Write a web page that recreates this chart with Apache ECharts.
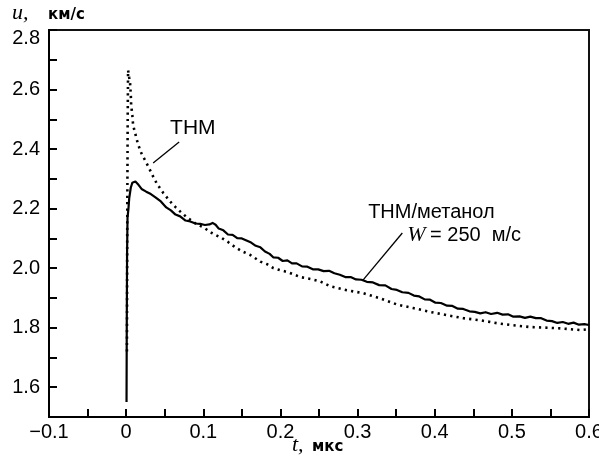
<!DOCTYPE html>
<html><head><meta charset="utf-8">
<script src="https://cdn.jsdelivr.net/npm/echarts@6/dist/echarts.min.js"></script>
<style>html,body{margin:0;padding:0;background:#fff}#c{width:599px;height:456px}</style>
</head><body><div id="c"></div>
<script>
// THM/метанол, W = 250 м/с (solid)
const tSolid=[0.0005,0.0008,0.0012,0.0018,0.003,0.004,0.006,0.008,0.012,0.016,0.020,0.026,0.032,0.038,0.045,0.052,0.058,0.064,0.070,0.077,0.083,0.090,0.096,0.102,0.108,0.112,0.116,0.120,0.126,0.132,0.138,0.144,0.150,0.156,0.162,0.168,0.174,0.180,0.186,0.191,0.197,0.203,0.209,0.215,0.221,0.228,0.235,0.242,0.249,0.256,0.263,0.270,0.277,0.284,0.291,0.298,0.305,0.312,0.320,0.328,0.336,0.344,0.351,0.358,0.366,0.373,0.380,0.387,0.394,0.401,0.408,0.416,0.423,0.430,0.437,0.445,0.452,0.459,0.466,0.473,0.481,0.488,0.495,0.502,0.510,0.517,0.524,0.531,0.538,0.545,0.552,0.559,0.566,0.573,0.580,0.587,0.594,0.600];
const uSolid=[1.55,1.80,2.05,2.17,2.20,2.235,2.27,2.287,2.291,2.28,2.266,2.257,2.249,2.238,2.224,2.204,2.194,2.180,2.174,2.160,2.157,2.150,2.149,2.145,2.147,2.152,2.146,2.133,2.127,2.113,2.112,2.101,2.100,2.093,2.086,2.075,2.070,2.056,2.048,2.036,2.035,2.024,2.026,2.016,2.016,2.006,2.005,1.996,1.996,1.990,1.991,1.983,1.978,1.970,1.970,1.962,1.961,1.954,1.952,1.943,1.942,1.930,1.927,1.919,1.917,1.908,1.905,1.895,1.894,1.884,1.883,1.874,1.873,1.864,1.863,1.855,1.853,1.848,1.852,1.846,1.850,1.844,1.845,1.837,1.838,1.833,1.837,1.832,1.832,1.824,1.822,1.816,1.819,1.813,1.817,1.810,1.812,1.809];
// ТНМ (dotted)
const tDotted=[0.001,0.0015,0.002,0.0025,0.004,0.005,0.006,0.0065,0.008,0.009,0.012,0.015,0.019,0.024,0.029,0.034,0.040,0.048,0.057,0.064,0.071,0.080,0.090,0.102,0.111,0.124,0.132,0.141,0.150,0.161,0.174,0.183,0.191,0.200,0.209,0.226,0.242,0.252,0.264,0.286,0.307,0.329,0.351,0.372,0.394,0.416,0.437,0.459,0.481,0.502,0.524,0.546,0.567,0.589,0.600];
const uDotted=[1.72,2.20,2.50,2.665,2.64,2.625,2.585,2.548,2.514,2.481,2.45,2.42,2.39,2.365,2.34,2.313,2.283,2.253,2.224,2.205,2.188,2.168,2.150,2.134,2.118,2.101,2.088,2.071,2.057,2.044,2.022,2.013,2.000,1.993,1.987,1.970,1.962,1.955,1.940,1.926,1.916,1.899,1.878,1.866,1.853,1.842,1.832,1.825,1.815,1.808,1.802,1.800,1.797,1.792,1.795];
const xTickLabels=['−0.1','0','0.1','0.2','0.3','0.4','0.5','0.6'];
const yTickLabels=['1.6','1.8','2.0','2.2','2.4','2.6','2.8'];

function zip(a,b){const n=Math.min(a.length,b.length);const r=[];for(let i=0;i<n;i++)r.push([a[i],b[i]]);return r;}

const chart=echarts.init(document.getElementById('c'),null,{renderer:'canvas'});
const SANS='"Liberation Sans", Arial, sans-serif';
const SERIF='"Liberation Serif", "Times New Roman", serif';
const axisCommon={
  axisLine:{show:true,onZero:false,lineStyle:{color:'#000',width:2}},
  axisTick:{show:true,inside:true,length:8,lineStyle:{color:'#000',width:2}},
  splitLine:{show:false}
};
chart.setOption({
  animation:false,
  backgroundColor:'#fff',
  grid:{left:49,right:10,top:30,bottom:39,containLabel:false,outerBoundsMode:'none',show:true,borderColor:'#111',borderWidth:2,backgroundColor:'transparent'},
  xAxis:Object.assign({type:'value',min:-0.1,max:0.6,interval:0.05,
    axisLabel:{fontSize:20,color:'#000',fontFamily:SANS,margin:5,hideOverlap:false,
      formatter:v=>{const k=Math.round(v*100);if(k%10!==0)return '';const i=k/10+1;return xTickLabels[i]||'';}}},axisCommon),
  yAxis:Object.assign({type:'value',min:1.5,max:2.8,interval:0.1,
    axisLabel:{fontSize:20,color:'#000',fontFamily:SANS,margin:9,
      rich:{top:{fontSize:20,fontFamily:SANS,color:'#000',padding:[16,0,0,0]}},
      formatter:v=>{const k=Math.round(v*10);if(k%2!==0)return '';const i=(k-16)/2;const s=yTickLabels[i]||'';return i===yTickLabels.length-1?'{top|'+s+'}':s;}}},axisCommon),
  series:[
    {type:'line',name:'ТНМ',data:zip(tDotted,uDotted),showSymbol:false,smooth:false,
     lineStyle:{color:'#000',width:2.6,type:[2.2,4.2],cap:'butt'},z:2},
    {type:'line',name:'ТНМ/метанол',data:zip(tSolid,uSolid),showSymbol:false,smooth:false,
     lineStyle:{color:'#000',width:2.2,join:'round'},z:3}
  ]
});

const P=(t,u)=>chart.convertToPixel({gridIndex:0},[t,u]);
// annotation anchors (data coordinates)
const thmText=[0.057,2.471], thmLine=[[0.0687,2.4235],[0.035,2.353]];
const mixText=[0.3137,2.188], wText=[0.3643,2.111], wRest=[0.394,2.111];
const mixLine=[[0.358,2.118],[0.307,1.960]];
const a=P(...thmText), b1=P(...thmLine[0]), b2=P(...thmLine[1]);
const c=P(...mixText), d=P(...wText), e=P(...wRest);
const f1=P(...mixLine[0]), f2=P(...mixLine[1]);
chart.setOption({graphic:[
  {type:'text',x:a[0],y:a[1],style:{text:'ТНМ',font:'21px '+SANS,fill:'#000',align:'left',verticalAlign:'middle'},z:10},
  {type:'line',shape:{x1:b1[0],y1:b1[1],x2:b2[0],y2:b2[1]},style:{stroke:'#000',lineWidth:1.3},z:10},
  {type:'text',x:c[0],y:c[1],style:{text:'ТНМ/метанол',font:'20px '+SANS,fill:'#000',align:'left',verticalAlign:'middle'},z:10},
  {type:'text',x:d[0],y:d[1],style:{text:'W',font:'italic 22px '+SERIF,fill:'#000',align:'left',verticalAlign:'middle'},z:10},
  {type:'text',x:e[0],y:e[1],style:{text:'= 250  м/с',font:'20px '+SANS,fill:'#000',align:'left',verticalAlign:'middle'},z:10},
  {type:'line',shape:{x1:f1[0],y1:f1[1],x2:f2[0],y2:f2[1]},style:{stroke:'#000',lineWidth:1.3},z:10},
  // axis names
  {type:'text',x:12,y:13,style:{text:'u,',font:'italic 22px '+SERIF,fill:'#000',align:'left',verticalAlign:'middle'},z:10},
  {type:'text',x:48,y:15,style:{text:'км/с',font:'bold 15px "DejaVu Sans", sans-serif',fill:'#000',align:'left',verticalAlign:'middle'},z:10},
  {type:'text',x:292,y:445,style:{text:'t,',font:'italic 22px '+SERIF,fill:'#000',align:'left',verticalAlign:'middle'},z:10},
  {type:'text',x:312,y:447,style:{text:'мкс',font:'bold 15px "DejaVu Sans", sans-serif',fill:'#000',align:'left',verticalAlign:'middle'},z:10}
]});
</script>
</body></html>
